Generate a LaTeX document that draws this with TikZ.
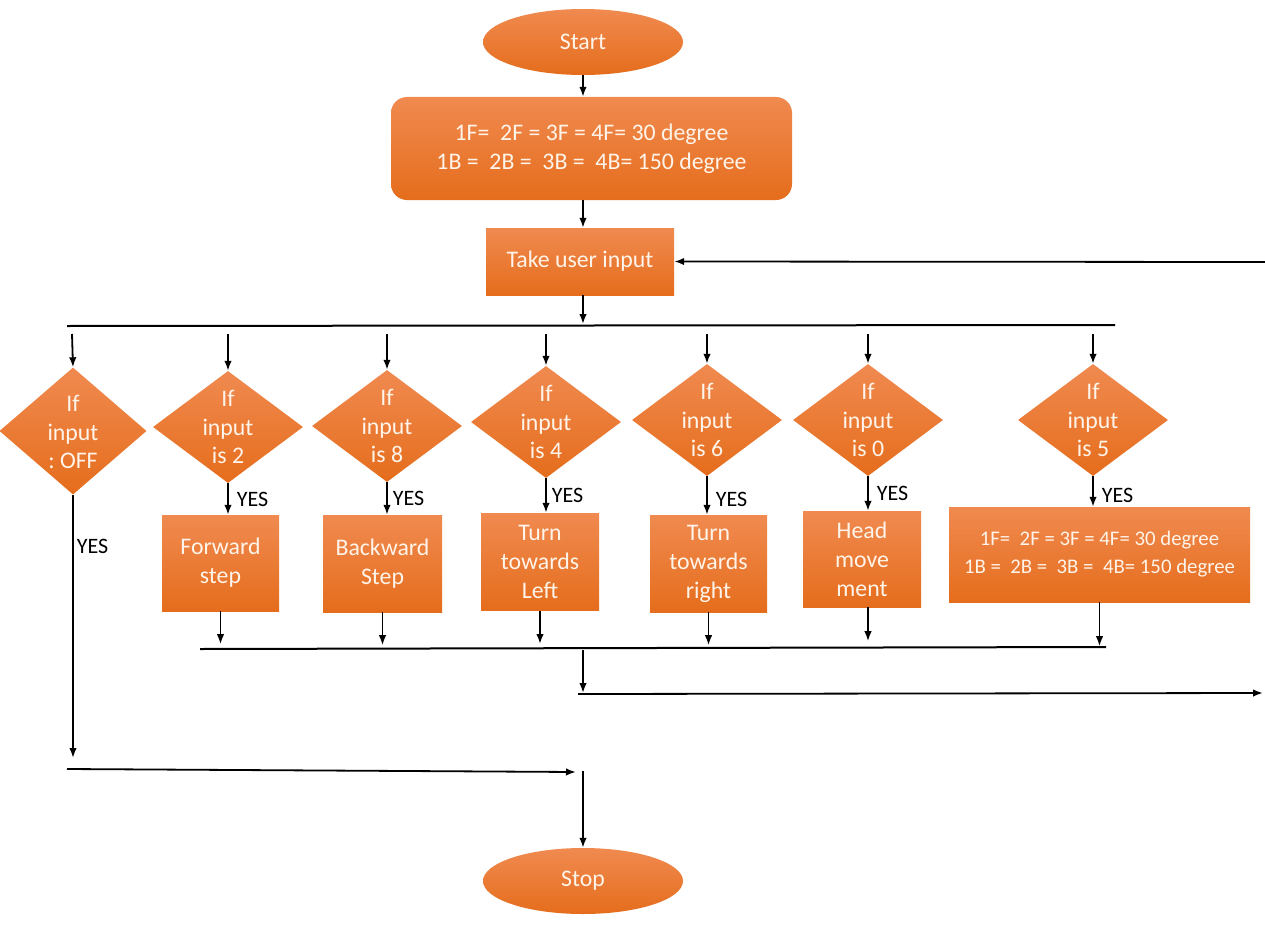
\documentclass[tikz,border=0pt]{standalone}
\usepackage{fontspec}
\setmainfont{Carlito}
\frenchspacing
\usetikzlibrary{shapes.geometric,arrows.meta}
\definecolor{otop}{HTML}{F08A50}
\definecolor{obot}{HTML}{E56D1C}
\definecolor{otext}{HTML}{FFF4EA}
\begin{document}
\begin{tikzpicture}[x=1pt,y=-1pt,
  fillo/.style={top color=otop, bottom color=obot, draw=none, text=otext,
    font=\fontsize{23.8}{29}\selectfont, align=center, inner sep=0pt},
  term/.style={fillo, ellipse, minimum width=200pt, minimum height=66pt},
  procbox/.style={fillo, rectangle},
  dia/.style={fillo, diamond, minimum width=150pt, minimum height=112pt},
  diatext/.style={text=otext, font=\fontsize{23.8}{28.5}\selectfont, align=center, inner sep=0pt},
  yes/.style={font=\fontsize{22}{26}\selectfont, text=black, anchor=west, inner sep=2pt, xshift=6pt},
  arr/.style={-{Latex[length=10pt,width=7.5pt]}, line width=1.8pt},
  ln/.style={line width=2pt}]
\useasboundingbox (0,0) rectangle (1265,939);
\fill[white] (0,0) rectangle (1265,939);

% top
\node[term] (start) at (583,42) {Start};
\node[procbox, rounded corners=16pt, minimum width=401pt, minimum height=103pt] (init) at (591.5,148.5)
  {1F=\ \ 2F = 3F = 4F= 30 degree\\1B =\ \ 2B =\ \ 3B =\ \ 4B= 150 degree};
\node[procbox, minimum width=188pt, minimum height=67pt] (take) at (580,261.5) {Take user input};

\draw[arr] (start.south) -- (start.south |- init.north);
\draw[arr] (start.south |- init.south) -- (start.south |- take.north);
\coordinate (fb) at (1265,262);
\draw[arr] (fb) -- (take.east);

\coordinate (bus1) at (583,324);
\draw[arr] (start.south |- take.south) -- (bus1);
\coordinate (busL) at (67,326);
\coordinate (busR) at (1115,325);
\draw[ln] (busL) -- (busR);

% diamonds
\node[dia, minimum width=147pt, minimum height=127pt] (d1) at (73,431) {};
\node[dia] (d2) at (228,427) {};
\node[dia] (d3) at (387,426) {};
\node[dia] (d4) at (546,422) {};
\node[dia] (d5) at (707,420) {};
\node[dia] (d6) at (868,420) {};
\node[dia] (d7) at (1093,420) {};

\node[diatext] at ([yshift=-1pt]d1) {If\\input\\: OFF};
\node[diatext] at (d2) {If\\input\\is 2};
\node[diatext] at (d3) {If\\input\\is 8};
\node[diatext] at (d4) {If\\input\\is 4};
\node[diatext] at (d5) {If\\input\\is 6};
\node[diatext] at (d6) {If\\input\\is 0};
\node[diatext] at (d7) {If\\input\\is 5};

\foreach \d/\xx in {d1/72,d2/228,d3/387,d4/546,d5/707,d6/868,d7/1093}{
  \coordinate (t\d) at (\xx,334);
  \draw[arr] (t\d) -- (\d.north);
}

% process boxes
\node[procbox, minimum width=117pt, minimum height=96pt] (b2) at (220.5,563) {Forward\\step};
\node[procbox, minimum width=119pt, minimum height=97pt] (b3) at (382.5,563.5) {Backward\\Step};
\node[procbox, minimum width=118pt, minimum height=97pt] (b4) at (540,561.5) {Turn\\towards\\Left};
\node[procbox, minimum width=117pt, minimum height=97pt] (b5) at (708.5,563.5) {Turn\\towards\\right};
\node[procbox, minimum width=118pt, minimum height=96pt] (b6) at (862,559) {Head\\move\\ment};
\node[procbox, minimum width=301pt, minimum height=95pt, font=\fontsize{20.8}{28}\selectfont] (b7) at (1099.5,554.5)
  {1F=\ \ 2F = 3F = 4F= 30 degree\\1B =\ \ 2B =\ \ 3B =\ \ 4B= 150 degree};

\draw[arr] (d2.south) -- (d2.south |- b2.north) node[yes, midway] {YES};
\draw[arr] (d3.south) -- (d3.south |- b3.north) node[yes, midway, xshift=-3pt] {YES};
\draw[arr] (d4.south) -- (d4.south |- b4.north) node[yes, midway, xshift=-3pt] {YES};
\draw[arr] (d5.south) -- (d5.south |- b5.north) node[yes, midway, yshift=-4pt] {YES};
\draw[arr] (d6.south) -- (d6.south |- b6.north) node[yes, midway] {YES};
\draw[arr] (d7.south) -- (d7.south |- b7.north) node[yes, midway, yshift=-4pt] {YES};

% OFF path
\coordinate (offE) at (73,758);
\draw[arr] (d1.south) -- (offE) node[yes, pos=0.195, xshift=-5pt] {YES};

% bottom bus
\coordinate (bbL) at (200,649);
\coordinate (bbR) at (1106,647);
\draw[ln] (bbL) -- (bbR);
\draw[arr] (b2.south) -- ++(0,33);
\draw[arr] (b3.south) -- ++(0,33);
\draw[arr] (b4.south |- 0,611) -- ++(0,33);
\draw[arr] (b5.south) -- ++(0,33);
\draw[arr] (d6.south |- b6.south) -- ++(0,34);
\draw[arr] (b7.south) -- ++(0,44);

\coordinate (m1) at (583,650);
\coordinate (m2) at (583,693);
\draw[arr] (m1) -- (m2);
\coordinate (outL) at (578,694);
\coordinate (outR) at (1263,693);
\draw[arr] (outL) -- (outR);

% to stop
\node[term] (stop) at (583,881) {Stop};
\coordinate (offL) at (67,769);
\coordinate (offR) at (576,772);
\draw[arr] (offL) -- (offR);
\coordinate (stopIn) at (583,771);
\draw[arr] (stopIn) -- (stop.north);
\end{tikzpicture}
\end{document}
